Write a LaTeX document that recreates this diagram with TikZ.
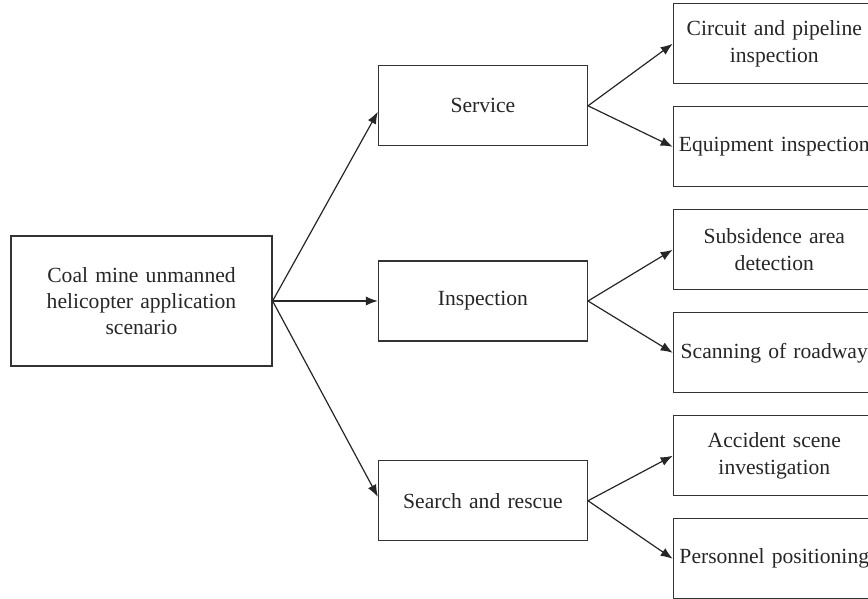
\documentclass[tikz,border=0pt]{standalone}
\usepackage{fontspec}
\setmainfont{Liberation Serif}
\usepackage{tikz}
\usetikzlibrary{shapes,arrows,arrows.meta}
\tikzstyle{rootblock} = [rectangle, draw=black!80, line width=0.6pt, text=black!85,
    inner sep=1pt, text width=128pt, text centered, minimum width=130.5pt, minimum height=65pt,
    font=\fontsize{10.8pt}{13pt}\selectfont]
\tikzstyle{useblock} = [rectangle, draw=black!80, line width=0.6pt, text=black!85,
    inner sep=1pt, text width=102pt, text centered, minimum width=104.5pt, minimum height=40pt,
    font=\fontsize{10.8pt}{13.2pt}\selectfont]
\tikzstyle{taskblock} = [rectangle, draw=black!80, line width=0.6pt, text=black!85,
    inner sep=1pt, text width=99pt, text centered, minimum width=101pt, minimum height=40pt,
    font=\fontsize{10.8pt}{13.5pt}\selectfont]
\tikzstyle{link} = [-{Latex[length=6pt,width=4.6pt]}, draw=black!85, line width=0.6pt]

\begin{document}
\begin{tikzpicture}[node distance = 2cm, auto]
    \useasboundingbox (-70.75pt,-149pt) rectangle (363.25pt,150.5pt);
    \node [rootblock] (scenario) {Coal mine unmanned\\ helicopter application\\ scenario};
    \node [useblock, right of=scenario, node distance=6cm] (inspection) {Inspection};
    \node [useblock, above of=inspection, node distance=3.43cm] (service) {Service};
    \node [useblock, below of=inspection, node distance=3.51cm] (rescue) {Search and rescue};
    \node [taskblock, right of=service, node distance=5.12cm, yshift=1.09cm] (circuit) {Circuit and pipeline\\ inspection};
    \node [taskblock, below of=circuit, node distance=1.81cm] (equipment) {Equipment inspection};
    \node [taskblock, below of=equipment, node distance=1.81cm] (subsidence) {Subsidence area\\ detection};
    \node [taskblock, below of=subsidence, node distance=1.81cm] (roadway) {Scanning of roadway};
    \node [taskblock, below of=roadway, node distance=1.81cm] (accident) {Accident scene\\ investigation};
    \node [taskblock, below of=accident, node distance=1.81cm] (personnel) {Personnel positioning};
    % Draw edges
    \draw [link] (scenario.east) -- ([yshift=-3pt]service.west);
    \draw [link] (scenario.east) -- (inspection.west);
    \draw [link] (scenario.east) -- ([yshift=2pt]rescue.west);
    \draw [link] (service.east) -- (circuit.west);
    \draw [link] (service.east) -- (equipment.west);
    \draw [link] (inspection.east) -- (subsidence.west);
    \draw [link] (inspection.east) -- (roadway.west);
    \draw [link] (rescue.east) -- (accident.west);
    \draw [link] (rescue.east) -- (personnel.west);
\end{tikzpicture}
\end{document}
